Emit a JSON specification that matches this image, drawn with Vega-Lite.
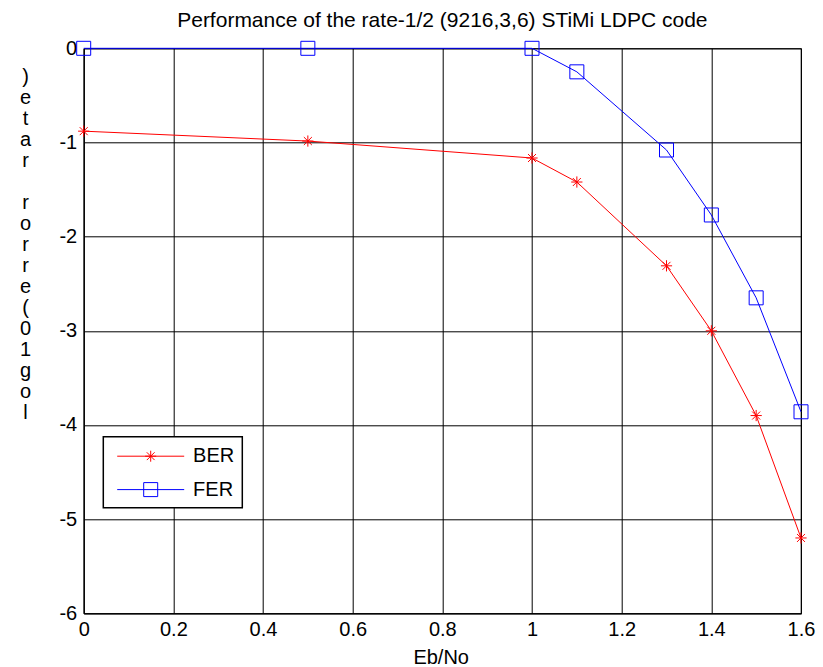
{
  "$schema": "https://vega.github.io/schema/vega-lite/v6.json",
  "autosize": {"type": "none"},
  "padding": {"left": 83.7, "top": 48.3, "right": 22, "bottom": 53.7},
  "width": 717.3,
  "height": 565,
  "background": "white",
  "title": {
    "text": "Performance of the rate-1/2 (9216,3,6) STiMi LDPC code",
    "font": "Liberation Sans",
    "fontSize": 21,
    "fontWeight": "normal",
    "color": "black",
    "baseline": "alphabetic",
    "offset": -9.7,
    "anchor": "middle",
    "frame": "group"
  },
  "data": {
    "values": [
      {"x": 0, "y": -0.88, "series": "BER"},
      {"x": 0.5, "y": -0.985, "series": "BER"},
      {"x": 1, "y": -1.165, "series": "BER"},
      {"x": 1.1, "y": -1.42, "series": "BER"},
      {"x": 1.3, "y": -2.31, "series": "BER"},
      {"x": 1.4, "y": -3.0, "series": "BER"},
      {"x": 1.5, "y": -3.9, "series": "BER"},
      {"x": 1.6, "y": -5.2, "series": "BER"},
      {"x": 0, "y": 0, "series": "FER"},
      {"x": 0.5, "y": 0, "series": "FER"},
      {"x": 1, "y": 0, "series": "FER"},
      {"x": 1.1, "y": -0.25, "series": "FER"},
      {"x": 1.3, "y": -1.08, "series": "FER"},
      {"x": 1.4, "y": -1.77, "series": "FER"},
      {"x": 1.5, "y": -2.65, "series": "FER"},
      {"x": 1.6, "y": -3.86, "series": "FER"}
    ]
  },
  "encoding": {
    "x": {
      "field": "x",
      "type": "quantitative",
      "scale": {"domain": [0, 1.6], "nice": false, "zero": false},
      "axis": {
        "title": "Eb/No",
        "values": [0, 0.2, 0.4, 0.6, 0.8, 1, 1.2, 1.4, 1.6],
        "labelExpr": "'' + datum.value",
        "grid": true,
        "ticks": false,
        "labelPadding": 6,
        "titleX": 357,
        "titleY": 49.7,
        "titleBaseline": "alphabetic",
        "titleAlign": "center"
      }
    },
    "y": {
      "field": "y",
      "type": "quantitative",
      "scale": {"domain": [-6, 0], "nice": false, "zero": false},
      "axis": {
        "title": [")", "e", "t", "a", "r", "\u2800", "r", "o", "r", "r", "e", "(", "0", "1", "g", "o", "l"],
        "values": [-6, -5, -4, -3, -2, -1, 0],
        "labelExpr": "'' + datum.value",
        "grid": true,
        "ticks": false,
        "labelPadding": 7,
        "titleAngle": 0,
        "titleAlign": "center",
        "titleBaseline": "alphabetic",
        "titleLineHeight": 21,
        "titleX": -58.7,
        "titleY": 33.7
      }
    }
  },
  "layer": [
    {
      "mark": {"type": "line", "strokeWidth": 1},
      "encoding": {
        "color": {
          "field": "series",
          "type": "nominal",
          "scale": {"domain": ["BER", "FER"], "range": ["#ff0000", "#0000ff"]},
          "legend": {
            "title": null,
            "orient": "none",
            "legendX": 19.6,
            "legendY": 388.4,
            "padding": 8,
            "fillColor": "white",
            "strokeColor": "black",
            "cornerRadius": 0,
            "symbolSize": 467,
            "symbolOffset": 27.9,
            "labelOffset": 30.9,
            "rowPadding": 11.4,
            "labelFontSize": 20,
            "labelColor": "black",
            "symbolStrokeWidth": 1,
            "symbolFillColor": "transparent",
            "encode": {
              "legend": {
                "update": {"strokeWidth": {"value": 1.5}}
              },
              "symbols": {
                "update": {
                  "shape": {"signal": "datum.value === 'BER' ? 'M-3.1,0H3.1M-0.51,0H0.51M0,-0.51V0.51M-0.36,-0.36L0.36,0.36M-0.36,0.36L0.36,-0.36' : 'M-3.1,0H3.1M-0.648,-0.648H0.648V0.648H-0.648Z'"},
                  "fill": {"value": "transparent"}
                }
              }
            }
          }
        }
      }
    },
    {
      "transform": [{"filter": "datum.series === 'BER'"}],
      "mark": {"type": "point", "filled": false, "strokeWidth": 1, "size": 196, "opacity": 1, "color": "#ff0000",
        "shape": "M-0.8,0H0.8M0,-0.8V0.8M-0.57,-0.57L0.57,0.57M-0.57,0.57L0.57,-0.57"}
    },
    {
      "transform": [{"filter": "datum.series === 'FER'"}],
      "mark": {"type": "point", "filled": false, "strokeWidth": 1, "size": 196, "opacity": 1, "color": "#0000ff",
        "shape": "square"}
    }
  ],
  "config": {
    "font": "Liberation Sans",
    "view": {"stroke": "black", "strokeWidth": 1},
    "axis": {
      "labelFont": "Liberation Sans",
      "labelFontSize": 20,
      "labelColor": "black",
      "titleFont": "Liberation Sans",
      "titleFontSize": 20,
      "titleFontWeight": "normal",
      "titleColor": "black",
      "gridColor": "black",
      "gridOpacity": 1,
      "gridWidth": 1,
      "domainColor": "black",
      "domainWidth": 1,
      "labelFlush": false,
      "labelOverlap": false
    },
    "legend": {"labelFont": "Liberation Sans"}
  }
}
